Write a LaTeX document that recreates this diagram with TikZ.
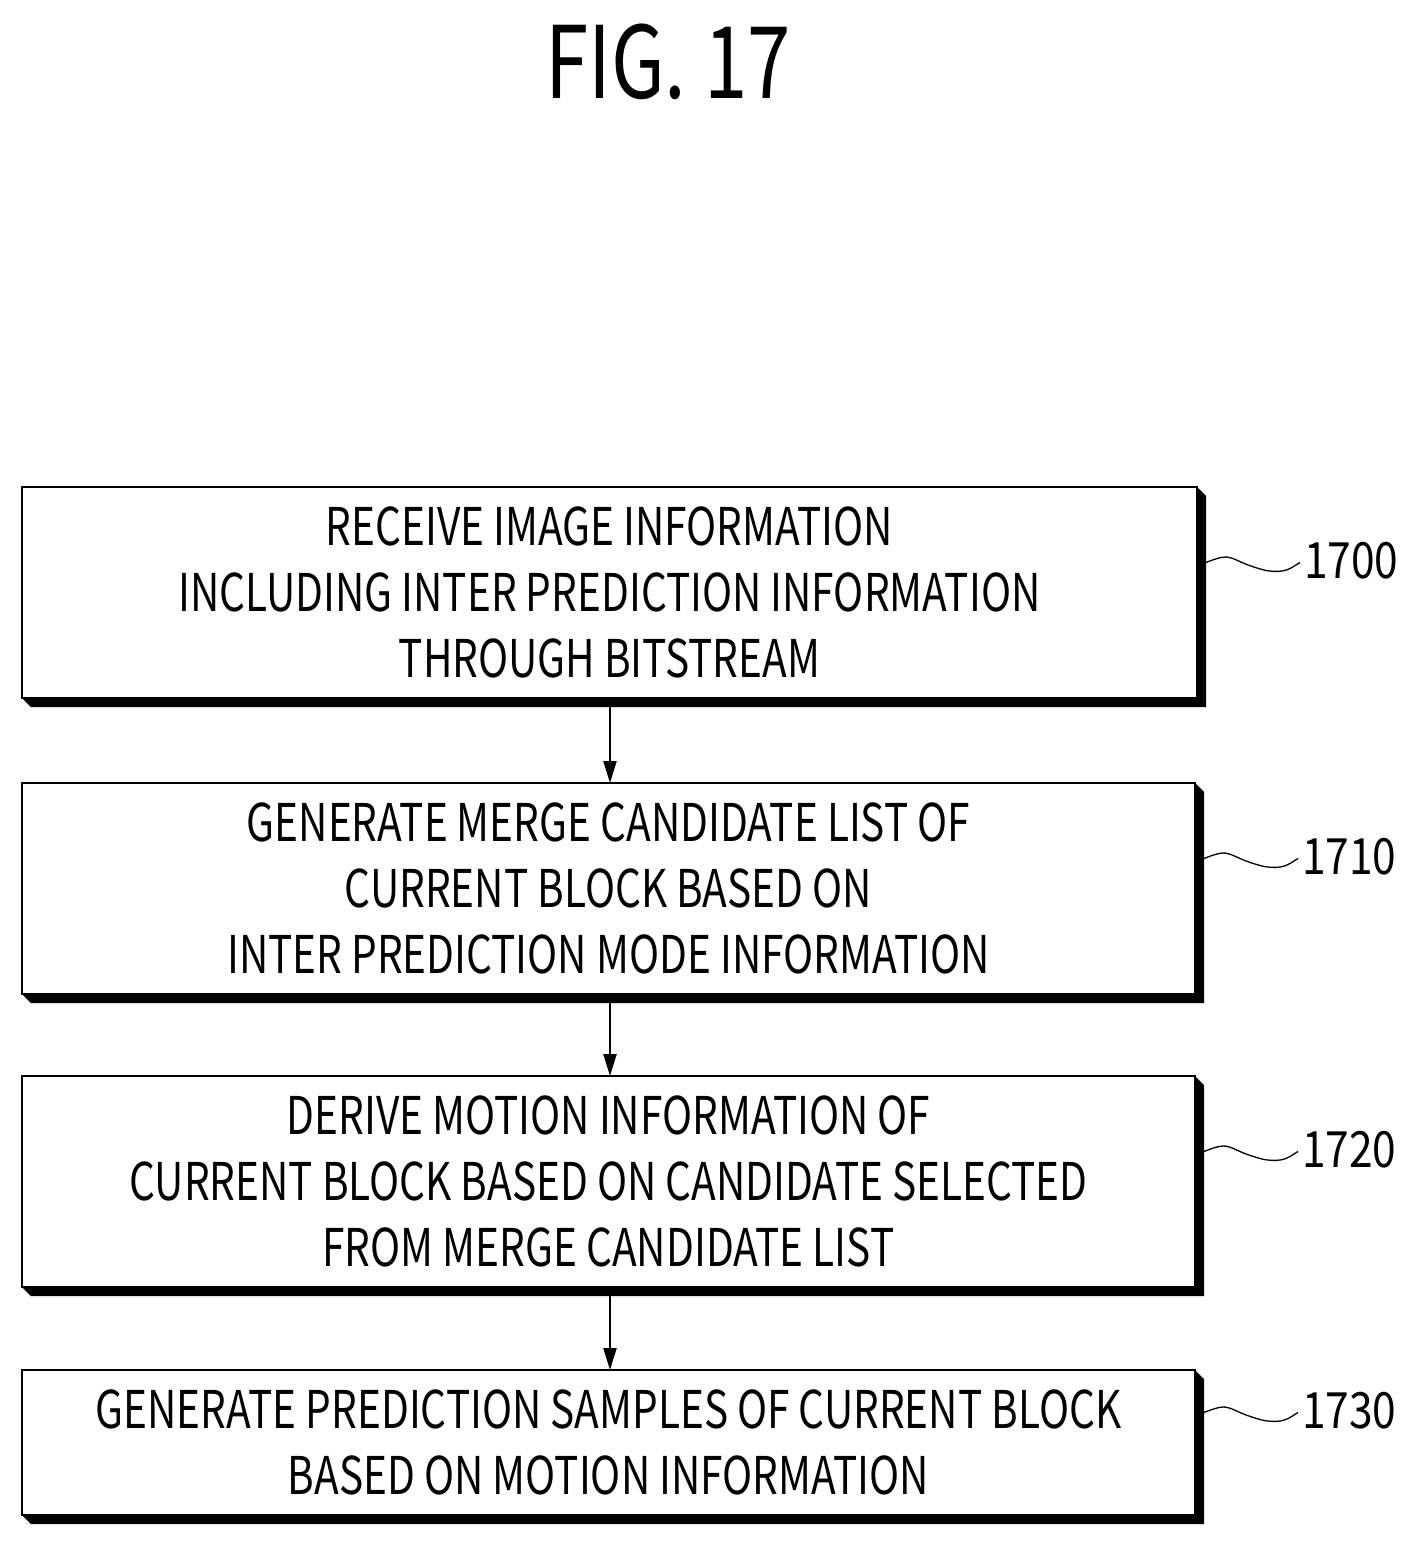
\documentclass[tikz,border=0pt]{standalone}
\usepackage{fontspec}
\setmainfont{Noto Sans CJK KR}[FakeStretch=0.78]
\newfontfamily\lblfont{Noto Sans CJK KR}[FakeStretch=0.85]
\usetikzlibrary{arrows.meta}
\begin{document}
\begin{tikzpicture}[x=1pt,y=-1pt,
  txt/.style={align=center,font=\fontsize{52}{66}\selectfont,inner sep=0},
  arr/.style={line width=2.2pt,-{Triangle[length=22pt,width=13pt]}},
  sq/.style={line width=1.3pt},
  lbl/.style={font=\lblfont\fontsize{50}{50}\selectfont,anchor=west,inner sep=0}]
\useasboundingbox (0,0) rectangle (1424,1548);
\newcommand\stepbox[6]{% name,x1,y1,x2,y2,text
  \fill (#2+3,#3+3) -- (#4,#3) -- (#4+9,#3+9) -- (#4+9,#5+9) -- (#2+9,#5+9) -- (#2,#5) -- cycle;
  \draw[line width=1.3pt,fill=white] (#2,#3) rectangle (#4,#5);
  \node[txt] (#1) at ({(#2+#4)/2},{(#3+#5)/2}) {#6};
  \coordinate (#1r) at (#4+9,{(#3+#5)/2-30});
  \coordinate (#1t) at (610,#3);
  \coordinate (#1b) at (610,#5+9);}
\stepbox{b1}{22}{487}{1197}{698}{RECEIVE IMAGE INFORMATION\\INCLUDING INTER PREDICTION INFORMATION\\THROUGH BITSTREAM}
\stepbox{b2}{22}{783}{1195}{994}{GENERATE MERGE CANDIDATE LIST OF\\CURRENT BLOCK BASED ON\\INTER PREDICTION MODE INFORMATION}
\stepbox{b3}{22}{1076}{1195}{1287}{DERIVE MOTION INFORMATION OF\\CURRENT BLOCK BASED ON CANDIDATE SELECTED\\FROM MERGE CANDIDATE LIST}
\stepbox{b4}{22}{1370}{1195}{1515}{GENERATE PREDICTION SAMPLES OF CURRENT BLOCK\\BASED ON MOTION INFORMATION}
\node[font=\fontsize{100}{100}\selectfont,inner sep=0] (title) at (668,62) {FIG. 17};
\foreach \b/\n in {b1/1700,b2/1710,b3/1720,b4/1730}{
  \draw[sq] (\b r) .. controls ++(30,-12) and ++(-40,-10) .. ++(60,8) .. controls ++(20,3) and ++(-10,6) .. ++(34,-8) coordinate (\b e);
  \node[lbl] (\b l) at ([xshift=4pt,yshift=2pt]\b e) {\n};}
\draw[arr] (b1b) -- (b2t);
\draw[arr] (b2b) -- (b3t);
\draw[arr] (b3b) -- (b4t);
\end{tikzpicture}
\end{document}
